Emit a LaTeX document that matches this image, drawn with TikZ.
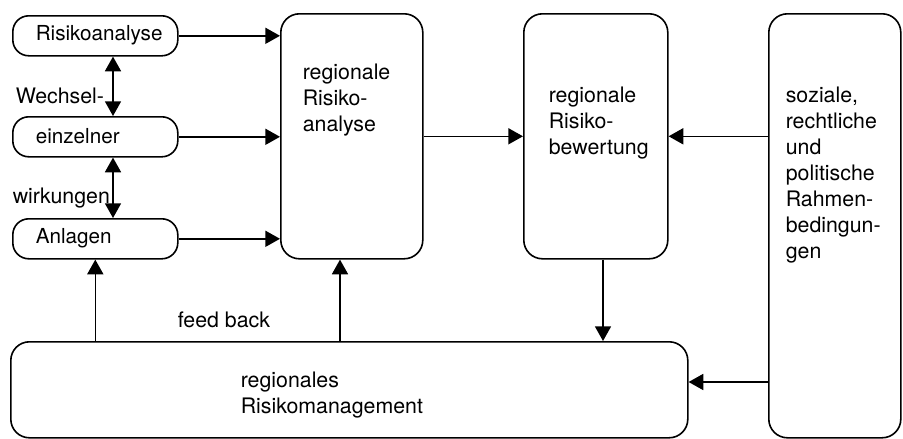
\documentclass[tikz,border=0pt]{standalone}
\usepackage{fontspec}
\setmainfont{TeX Gyre Heros}
\usetikzlibrary{arrows.meta}

\tikzset{every picture/.style={line width=1.2pt}}
\tikzset{
  pill/.style={draw, rounded corners=12pt, inner sep=0pt, minimum width=123.75pt, minimum height=30pt, anchor=north west},
  block/.style={draw, rounded corners=14pt, inner sep=0pt, anchor=north west},
  lbl/.style={inner sep=0pt, align=left, font=\fontsize{16}{19.5}\selectfont},
  small/.style={inner sep=0pt, anchor=west, font=\fontsize{15.5}{18}\selectfont},
  flow/.style={-{Triangle[length=11pt,width=12pt]}},
  both/.style={{Triangle[length=11pt,width=12pt]}-{Triangle[length=11pt,width=12pt]}}
}

\begin{document}
\begin{tikzpicture}[x=0.75pt,y=0.75pt,yscale=-1,xscale=1]
\useasboundingbox (0,0) rectangle (903,439);

%Rounded Rect: small boxes
\draw (12,15) node [pill] (risk) {};
\draw (12,116) node [pill] (einz) {};
\draw (12,218) node [pill] (anl) {};
%Rounded Rect: big boxes
\draw (280,13) node [block, minimum width=106.5pt, minimum height=183.75pt] (regana) {};
\draw (523,13) node [block, minimum width=108pt, minimum height=183.75pt] (regbew) {};
\draw (768,13) node [block, minimum width=99pt, minimum height=318pt] (soz) {};
\draw (10,341) node [block, minimum width=507.75pt, minimum height=72pt] (mgmt) {};

% Text Node
\draw (35,35) node [small] (trisk) {Risikoanalyse};
% Text Node
\draw (35,136) node [small] (teinz) {einzelner};
% Text Node
\draw (35,238) node [small] (tanl) {Anlagen};
% Text Node
\draw (15,96) node [lbl, anchor=west] (twech) {Wechsel-};
% Text Node
\draw (12,198) node [lbl, anchor=west] (twirk) {wirkungen};
% Text Node
\draw (302,100) node [lbl, anchor=west] (tregana) {regionale\\Risiko-\\analyse};
% Text Node
\draw (548,123) node [lbl, anchor=west] (tregbew) {regionale\\Risiko-\\bewertung};
% Text Node
\draw (785,175) node [lbl, anchor=west] (tsoz) {soziale,\\rechtliche\\und\\politische\\Rahmen-\\bedingun-\\gen};
% Text Node
\draw (240,395) node [lbl, anchor=west] (tmgmt) {regionales\\Risikomanagement};
% Text Node
\draw (177,320) node [lbl, anchor=west] (tfeed) {feed back};

%Coordinates for free ends
\coordinate (wx) at (113,0);
\coordinate (upx) at (340,0);
\coordinate (dnx) at (603,0);
\coordinate (sy) at (0,382);

%Straight Lines: inputs to regional analysis
\draw [flow] (risk.east) -- (risk.east -| regana.west);
\draw [flow] (einz.east) -- (einz.east -| regana.west);
\draw [flow] (anl.east) -- (anl.east -| regana.west);
%Straight Lines: interactions
\draw [both] (risk.south -| wx) -- (einz.north -| wx);
\draw [both] (einz.south -| wx) -- (anl.north -| wx);
%Straight Lines: main flow
\draw [flow] (regana.east) -- (regbew.west);
\draw [flow] (soz.west |- regbew.east) -- (regbew.east);
\draw [flow] (regbew.south -| dnx) -- (mgmt.north -| dnx);
\draw [flow] (soz.west |- sy) -- (mgmt.east |- sy);
%Straight Lines: feed back
\draw [flow] (anl.south |- mgmt.north) -- (anl.south);
\draw [flow] (mgmt.north -| upx) -- (regana.south -| upx);
\end{tikzpicture}
\end{document}
